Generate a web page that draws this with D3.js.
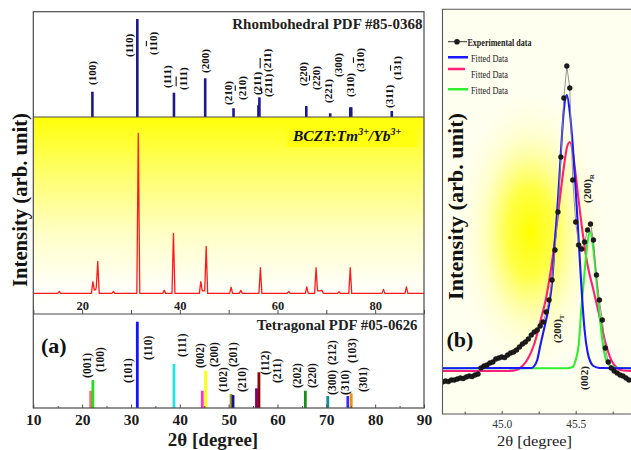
<!DOCTYPE html>
<html><head><meta charset="utf-8">
<script src="https://cdn.jsdelivr.net/npm/d3@7"></script>
<style>
html,body{margin:0;padding:0;background:#fff;}
svg{display:block;}
text{font-family:"Liberation Serif","Times New Roman",serif;}
</style>
</head><body>
<svg id="chart" width="631" height="450"></svg>
<script>
// ================= DATA =================
// Rhombohedral reference pattern PDF #85-0368
const rhombTheta = [22.1, 31.3, 38.8, 45.2, 51.0, 56.1, 56.3, 65.9, 70.8, 74.9, 75.1, 83.4];
const rhombInt   = [25.8, 100, 24.8, 39.5, 8.9, 12.0, 20.1, 11.2, 3.8, 9.9, 9.9, 6.1];
const rhombLabels = ["(100)","(110)","(1^10)","(111)","(^1^11)","(200)","(210)","(2^10)","(211)","(^2^11)","(^211)","(220)","(2^20)","(221)","(300)","(310)","(3^10)","(311)","(1^31)"];
const rhombLabelTheta = [22.0, 29.6, 34.5, 37.4, 40.6, 45.1, 49.9, 52.7, 55.8, 57.8, 58.1, 65.2, 67.9, 70.3, 72.4, 74.9, 76.9, 82.8, 84.5];
const rhombLabelLevel = [32.7, 61.2, 63.3, 29.6, 27.6, 44.9, 12.2, 17.3, 22.4, 45.9, 20.4, 31.6, 27.6, 14.3, 40.8, 20.4, 45.9, 9.2, 37.8];

// Measured XRD pattern BCZT:Tm3+/Yb3+
const xrdTheta = [10, 15.0, 15.3, 15.6, 21.9, 22.2, 22.5, 22.8, 22.9, 23.2, 23.5, 26.1, 26.4, 26.7, 31.2, 31.5, 31.8,
  36.5, 36.8, 37.1, 38.4, 38.7, 39.0, 44.0, 44.3, 44.6, 45.1, 45.4, 45.7, 50.2, 50.5, 50.8, 52.2, 52.5, 52.8,
  56.2, 56.5, 56.8, 62.0, 62.3, 62.6, 65.7, 66.0, 66.3, 67.6, 67.9, 68.2, 68.8, 69.1, 69.4, 72.3, 72.6, 72.9,
  74.6, 74.9, 75.2, 81.4, 81.7, 82.0, 86.1, 86.4, 86.7, 90];
const xrdInt = [0, 0, 1.2, 0, 0, 7.3, 2.0, 2.5, 4.0, 20, 0, 0, 1.2, 0, 0, 100, 0,
  0, 2.0, 0, 0, 37.5, 0, 0, 7.3, 1.5, 1.5, 29.4, 0, 0, 3.8, 0, 0, 1.9, 0,
  0, 16, 0, 0, 1.2, 0, 0, 4.1, 0, 0, 16, 1.5, 1.5, 1.9, 0, 0, 1.0, 0,
  0, 16, 0, 0, 2.5, 0, 0, 4.1, 0, 0];

// Tetragonal reference pattern PDF #05-0626
const tetraTheta = [21.75, 22.2, 31.3, 38.8, 44.6, 45.3, 50.5, 50.9, 55.7, 56.2, 65.7, 70.3, 74.4, 75.1];
const tetraInt   = [20, 32.4, 100, 51, 20, 43.2, 16.2, 15, 22.8, 41.4, 20, 13.9, 13.9, 17];
const tetraLabels = ["(001)","(100)","(101)","(110)","(111)","(002)","(200)","(102)","(201)","(210)","(112)","(211)","(202)","(220)","(300)","(212)","(310)","(103)","(301)"];
const tetraLabelTheta = [20.9, 23.7, 29.45, 33.55, 40.5, 44.1, 47.0, 48.9, 50.95, 52.7, 57.45, 59.95, 64.05, 67.0, 71.1, 71.1, 73.8, 75.2, 77.6];
const tetraLabelLevel = [34.8, 41.7, 29.0, 55.6, 59.1, 46.3, 47.5, 18.5, 47.5, 18.5, 38.2, 29.0, 23.2, 23.2, 15.1, 49.8, 15.1, 52.1, 18.5];

// Axis ticks (panel a)
const xTicksMain = [10, 20, 30, 40, 50, 60, 70, 80, 90];
const xTicksMinor = [15, 25, 35, 45, 55, 65, 75, 85];
const xTicksMid = [20, 40, 60, 80];

// Panel (b): zoom on the (200) region
const expTheta = [44.60,44.62,44.64,44.66,44.68,44.70,44.72,44.74,44.76,44.78,44.80,44.82,44.84,44.86,44.88,44.90,44.92,44.94,44.96,44.98,
  45.00,45.02,45.04,45.06,45.08,45.10,45.12,45.14,45.16,45.18,45.20,45.22,45.24,45.26,45.28,45.30,45.32,45.34,45.36,45.38,
  45.40,45.42,45.44,45.46,45.48,45.50,45.52,45.54,45.56,45.58,45.60,45.62,45.64,45.66,45.68,45.70,45.72,45.74,45.76,45.78,
  45.80,45.82,45.84,45.86];
const expInt = [320,330,325,340,340,350,360,355,370,380,375,390,400,460,480,490,510,520,550,560,
  570,565,590,610,620,640,670,700,720,750,790,820,840,880,920,1020,1140,1340,1640,2020,
  2570,3160,3480,3260,2340,1920,1690,1650,1720,1840,1900,1740,1390,1140,940,660,520,460,430,410,
  390,380,360,340];
const fitBlueTheta = [44.60,45.20,45.22,45.24,45.26,45.28,45.30,45.32,45.34,45.36,45.38,45.40,45.42,45.44,45.46,45.48,45.50,45.52,45.54,45.56,45.58,45.60,45.62,45.66,45.90];
const fitBlueInt   = [457,460,480,540,680,810,940,1090,1310,1740,2140,2620,3040,3190,3020,2690,2240,1740,1240,840,620,520,480,460,457];
const fitPinkTheta = [44.60,45.05,45.10,45.14,45.18,45.22,45.26,45.30,45.34,45.38,45.42,45.44,45.46,45.48,45.50,45.54,45.58,45.62,45.66,45.70,45.74,45.78,45.82,45.90];
const fitPinkInt   = [430,430,440,480,560,700,920,1160,1520,1990,2470,2660,2720,2620,2390,1890,1490,1240,980,720,540,460,435,430];
const fitGreenTheta = [44.60,45.44,45.48,45.50,45.52,45.54,45.56,45.58,45.60,45.62,45.64,45.66,45.68,45.70,45.72,45.76,45.90];
const fitGreenInt   = [457,457,470,540,690,1090,1420,1720,1823,1640,1340,1020,740,570,500,465,457];
const bTicksMajor = [45.0, 45.5];
const bTicksMinor = [44.75, 45.25, 45.75];
const legendNames = ["Experimental data", "Fitted Data", "Fitted Data", "Fitted Data"];

// ================= STYLE =================
const tetraColors = ["#ff6a6a","#22dd22","#1414ff","#20e6e6","#ff30c8","#ffff00","#9c9c10","#121290","#7a007a","#8b0000","#1e8b1e","#109090","#2e2eff","#ff8c00"];
const navy = "#1b1b8e";
const frameCol = "#4a4a4a";

const svg = d3.select("#chart");
const defs = svg.append("defs");

// ================= PANEL (a) =================
const xL = 33.3, xR = 424;
const yTop = 11.7, yDiv1 = 117, yDiv2 = 314, yBot = 408;
const x = d3.scaleLinear().domain([10, 90]).range([xL, xR]);
const yR = d3.scaleLinear().domain([0, 100]).range([yDiv1, 19]);
const yM = d3.scaleLinear().domain([-12.9, 110.2]).range([yDiv2, yDiv1]);
const yT = d3.scaleLinear().domain([0, 100]).range([yBot, 321.7]);

// middle gradient
const lg = defs.append("linearGradient").attr("id","midGrad").attr("x1",0).attr("y1",0).attr("x2",0).attr("y2",1);
lg.append("stop").attr("offset","0").attr("stop-color","#ffff08");
lg.append("stop").attr("offset","0.3").attr("stop-color","#ffff70");
lg.append("stop").attr("offset","0.6").attr("stop-color","#ffffc8");
lg.append("stop").attr("offset","0.85").attr("stop-color","#fffff6");
lg.append("stop").attr("offset","1").attr("stop-color","#ffffff");
svg.append("rect").attr("x", xL).attr("y", yDiv1).attr("width", xR - xL).attr("height", yDiv2 - yDiv1).attr("fill","url(#midGrad)");

// label helper (rotated, supports overbars with "^")
function rotLabel(g, str, px, py, size, weight) {
  const t = g.append("text")
    .attr("transform", `translate(${px},${py}) rotate(-90)`)
    .attr("dy", "0.35em")
    .attr("font-size", size).attr("font-weight", weight || "bold")
    .attr("fill", "#111");
  let i = 0;
  while (i < str.length) {
    if (str[i] === "^") {
      t.append("tspan").style("text-decoration", "overline").text(str[i + 1]);
      i += 2;
    } else {
      t.append("tspan").text(str[i]);
      i++;
    }
  }
  return t;
}

// Rhombohedral bars
const gR = svg.append("g");
gR.selectAll("line").data(rhombTheta).join("line")
  .attr("x1", d => x(d)).attr("x2", d => x(d))
  .attr("y1", yR(0)).attr("y2", (d, i) => yR(rhombInt[i]))
  .attr("stroke", navy).attr("stroke-width", 2.6);
rhombLabels.forEach((s, i) => rotLabel(gR, s, x(rhombLabelTheta[i]), yR(rhombLabelLevel[i]), 11));
gR.append("text").attr("x", 422.5).attr("y", 28.5).attr("text-anchor", "end")
  .attr("font-size", 15).attr("font-weight", "bold").attr("fill", "#222").text("Rhombohedral PDF #85-0368");

// Middle XRD
const xrdLine = d3.line().x((d, i) => x(xrdTheta[i])).y((d, i) => yM(xrdInt[i]));
svg.append("path").datum(xrdTheta).attr("d", xrdLine)
  .attr("fill", "none").attr("stroke", "#ff1a1a").attr("stroke-width", 1.3).attr("stroke-linejoin", "round");

// middle label box
svg.append("rect").attr("x", 287).attr("y", 122).attr("width", 130).attr("height", 25).attr("fill", "#ffff10");
const bt = svg.append("text").attr("x", 293).attr("y", 141).attr("font-size", 15.5)
  .attr("font-weight", "bold").attr("font-style", "italic").attr("fill", "#111");
bt.append("tspan").text("BCZT:Tm");
bt.append("tspan").attr("font-size", 10).attr("dy", -6).text("3+");
bt.append("tspan").attr("dy", 6).text("/Yb");
bt.append("tspan").attr("font-size", 10).attr("dy", -6).text("3+");

// middle axis (labels inside, above the line)
svg.append("g").attr("transform", `translate(0,${yDiv2})`)
  .call(d3.axisTop(x).tickValues(xTicksMain).tickSize(4).tickFormat(""))
  .call(g => g.select(".domain").remove())
  .call(g => g.selectAll(".tick line").attr("stroke", frameCol));
svg.append("g").attr("transform", `translate(0,${yDiv2})`)
  .call(d3.axisTop(x).tickValues(xTicksMid).tickSize(0).tickPadding(4.5).tickFormat(d3.format("d")))
  .call(g => g.select(".domain").remove())
  .call(g => g.selectAll("text").attr("font-family", "Liberation Serif").attr("font-size", 12.5).attr("font-weight", "bold").attr("fill", "#222"));

// Tetragonal bars
const gT = svg.append("g");
gT.selectAll("line").data(tetraTheta).join("line")
  .attr("x1", d => x(d)).attr("x2", d => x(d))
  .attr("y1", yT(0)).attr("y2", (d, i) => yT(tetraInt[i]))
  .attr("stroke", (d, i) => tetraColors[i]).attr("stroke-width", 2.8);
tetraLabels.forEach((s, i) => rotLabel(gT, s, x(tetraLabelTheta[i]), yT(tetraLabelLevel[i]), 11.5));
gT.append("text").attr("x", 417.5).attr("y", 329.5).attr("text-anchor", "end")
  .attr("font-size", 14.8).attr("font-weight", "bold").attr("fill", "#222").text("Tetragonal PDF #05-0626");
gT.append("text").attr("x", 41).attr("y", 353).attr("font-size", 22).attr("font-weight", "bold").attr("fill", "#111").text("(a)");

// Bottom axis
svg.append("g").attr("transform", `translate(0,${yBot})`)
  .call(d3.axisBottom(x).tickValues(xTicksMain).tickSize(-3.5).tickPadding(6).tickFormat(d3.format("d")))
  .call(g => g.select(".domain").remove())
  .call(g => g.selectAll(".tick line").attr("stroke", frameCol))
  .call(g => g.selectAll("text").attr("font-family", "Liberation Serif").attr("font-size", 15.5).attr("font-weight", "bold").attr("fill", "#1a1a1a"));
svg.append("g").attr("transform", `translate(0,${yBot})`)
  .call(d3.axisBottom(x).tickValues(xTicksMinor).tickSize(-2).tickFormat(""))
  .call(g => g.select(".domain").remove())
  .call(g => g.selectAll(".tick line").attr("stroke", frameCol));

svg.append("text").attr("x", 213).attr("y", 445.6).attr("text-anchor", "middle")
  .attr("font-size", 19).attr("font-weight", "bold").attr("fill", "#1a1a1a").text("2θ [degree]");

// Frames
const fr = svg.append("g").attr("fill", "none").attr("stroke", frameCol).attr("stroke-width", 1.2);
fr.append("rect").attr("x", xL).attr("y", yTop).attr("width", xR - xL).attr("height", yBot - yTop);
fr.append("line").attr("x1", xL).attr("x2", xR).attr("y1", yDiv1).attr("y2", yDiv1);
fr.append("line").attr("x1", xL).attr("x2", xR).attr("y1", yDiv2).attr("y2", yDiv2);

// Y label
svg.append("text").attr("transform", "translate(20,200) rotate(-90)").attr("dy", "0.35em")
  .attr("text-anchor", "middle").attr("font-size", 21).attr("font-weight", "bold").attr("fill", "#111")
  .attr("textLength", 174).attr("lengthAdjust", "spacingAndGlyphs")
  .text("Intensity (arb. unit)");

// ================= PANEL (b) =================
const bL = 442.5, bT = 9.3, bB = 414, bR = 640;
const xb = d3.scaleLinear().domain([44.6, 45.9]).range([bL, 634.9]);
const yb = d3.scaleLinear().domain([0, 4050]).range([bB, 9]);

defs.append("clipPath").attr("id", "bclip").append("rect")
  .attr("x", bL).attr("y", bT).attr("width", bR - bL).attr("height", bB - bT);
const rg = defs.append("radialGradient").attr("id", "glow");
rg.append("stop").attr("offset", "0").attr("stop-color", "#ffff00").attr("stop-opacity", 1);
rg.append("stop").attr("offset", "0.3").attr("stop-color", "#ffff28").attr("stop-opacity", 0.85);
rg.append("stop").attr("offset", "0.65").attr("stop-color", "#ffff90").attr("stop-opacity", 0.35);
rg.append("stop").attr("offset", "1").attr("stop-color", "#fffff0").attr("stop-opacity", 0);

const gb = svg.append("g").attr("clip-path", "url(#bclip)");
gb.append("rect").attr("x", bL).attr("y", bT).attr("width", bR - bL).attr("height", bB - bT).attr("fill", "#fffff0");
gb.append("ellipse").attr("cx", 530).attr("cy", 232).attr("rx", 78).attr("ry", 150).attr("fill", "url(#glow)");

const mkLine = (T, I) => d3.line().curve(d3.curveMonotoneX).x((d, i) => xb(T[i])).y((d, i) => yb(I[i]));
gb.append("path").datum(fitPinkTheta).attr("d", mkLine(fitPinkTheta, fitPinkInt))
  .attr("fill", "none").attr("stroke", "#ff1f78").attr("stroke-width", 2.1);
gb.append("path").datum(fitGreenTheta).attr("d", mkLine(fitGreenTheta, fitGreenInt))
  .attr("fill", "none").attr("stroke", "#30ee30").attr("stroke-width", 2.1);
gb.append("path").datum(fitBlueTheta).attr("d", mkLine(fitBlueTheta, fitBlueInt))
  .attr("fill", "none").attr("stroke", "#1818ff").attr("stroke-width", 2.1);

// experimental
gb.append("path").datum(expTheta).attr("d", d3.line().x((d, i) => xb(expTheta[i])).y((d, i) => yb(expInt[i])))
  .attr("fill", "none").attr("stroke", "#888").attr("stroke-width", 0.9);
gb.selectAll("circle.exp").data(expTheta).join("circle").attr("class", "exp")
  .attr("cx", d => xb(d)).attr("cy", (d, i) => yb(expInt[i])).attr("r", 2.5)
  .attr("fill", "#1c1c1c").attr("stroke", "#000").attr("stroke-width", 0.4);

// peak labels
const sub = (g, main, s, px, py) => {
  const t = g.append("text").attr("transform", `translate(${px},${py}) rotate(-90)`).attr("dy", "0.35em")
    .attr("font-size", 11).attr("font-weight", "bold").attr("fill", "#222");
  t.append("tspan").text(main);
  if (s) t.append("tspan").attr("font-size", 7).attr("dy", 3).text(s);
};
sub(gb, "(200)", "T", 556.7, 343);
sub(gb, "(200)", "R", 586.7, 203);
sub(gb, "(002)", "", 584.3, 390);

gb.append("text").attr("x", 446.5).attr("y", 347).attr("font-size", 22).attr("font-weight", "bold").attr("fill", "#111").text("(b)");

// legend
const lgG = gb.append("g");
lgG.append("line").attr("x1", 448).attr("x2", 467).attr("y1", 41.7).attr("y2", 41.7).attr("stroke", "#333").attr("stroke-width", 1);
lgG.append("circle").attr("cx", 457).attr("cy", 41.7).attr("r", 2.8).attr("fill", "#1c1c1c");
const legCols = ["#1818ff", "#ff1f78", "#30ee30"];
const legLineY = [57.3, 69, 89.3];
const legTextY = [61.5, 77.5, 93.5];
const legLineX2 = [468, 465, 468];
legCols.forEach((c, i) => {
  lgG.append("line").attr("x1", 448).attr("x2", legLineX2[i]).attr("y1", legLineY[i]).attr("y2", legLineY[i])
    .attr("stroke", c).attr("stroke-width", 2.4);
  lgG.append("text").attr("x", 471).attr("y", legTextY[i]).attr("font-size", 11).attr("fill", "#222")
    .attr("textLength", 37).attr("lengthAdjust", "spacingAndGlyphs").text(legendNames[i + 1]);
});
lgG.append("text").attr("x", 467.5).attr("y", 45.5).attr("font-size", 11).attr("font-weight", "bold").attr("fill", "#222")
  .attr("textLength", 64).attr("lengthAdjust", "spacingAndGlyphs").text(legendNames[0]);

// axis (b)
svg.append("g").attr("transform", `translate(0,${bB})`)
  .call(d3.axisBottom(xb).tickValues(bTicksMajor).tickSize(-3).tickPadding(5.5).tickFormat(d3.format(".1f")))
  .call(g => g.select(".domain").remove())
  .call(g => g.selectAll(".tick line").attr("stroke", frameCol))
  .call(g => g.selectAll("text").attr("font-family", "Liberation Serif").attr("font-size", 11.5).attr("fill", "#333"));
svg.append("g").attr("transform", `translate(0,${bB})`)
  .call(d3.axisBottom(xb).tickValues(bTicksMinor).tickSize(-2.5).tickFormat(""))
  .call(g => g.select(".domain").remove())
  .call(g => g.selectAll(".tick line").attr("stroke", frameCol));
svg.append("text").attr("x", 497).attr("y", 446.3).attr("font-size", 15).attr("fill", "#222")
  .attr("textLength", 75).attr("lengthAdjust", "spacingAndGlyphs").text("2θ [degree]");

// frame (b)
const fb = svg.append("g").attr("fill", "none").attr("stroke", "#555").attr("stroke-width", 1.1);
fb.append("polyline").attr("points", `${bR},${bT} ${bL},${bT} ${bL},${bB} ${bR},${bB}`);

svg.append("text").attr("transform", "translate(455,206.5) rotate(-90)").attr("dy", "0.35em")
  .attr("text-anchor", "middle").attr("font-size", 21.5).attr("font-weight", "bold").attr("fill", "#111")
  .attr("textLength", 187).attr("lengthAdjust", "spacingAndGlyphs")
  .text("Intensity (arb. unit)");
</script>
</body></html>
